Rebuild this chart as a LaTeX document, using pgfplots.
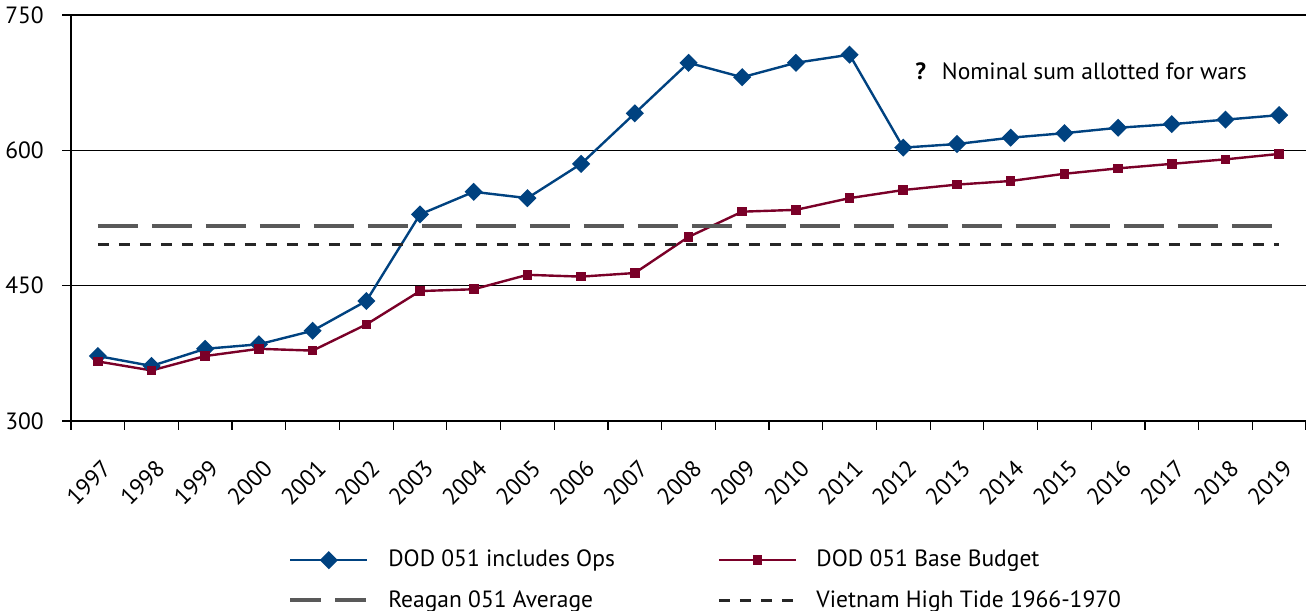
\documentclass[border=0pt]{standalone}
\usepackage{pgfplots}
\pgfplotsset{compat=1.18}
\usepackage{fontspec}
\setmainfont{PT Sans}
\definecolor{dodblue}{RGB}{0,66,128}
\definecolor{dodred}{RGB}{122,0,40}
\definecolor{reagan}{RGB}{89,89,89}
\definecolor{viet}{RGB}{38,38,38}
\begin{document}
\fontsize{11.8}{14}\selectfont
\begin{tikzpicture}
\begin{axis}[
  name=ax,
  scale only axis,
  width=617.5bp, height=203bp,
  xmin=-0.5, xmax=22.5,
  ymin=300, ymax=750,
  ytick={300,450,600,750},
  ymajorgrids,
  grid style={black, line width=0.6bp},
  axis x line=bottom, axis y line=left,
  axis line style={black, line width=0.8bp, -},
  xtick={0,...,22},
  xticklabels={1997,1998,1999,2000,2001,2002,2003,2004,2005,2006,2007,2008,2009,2010,2011,2012,2013,2014,2015,2016,2017,2018,2019},
  major x tick style={draw=none},
  minor xtick={-0.5,0.5,...,22.5},
  minor x tick style={black, line width=0.6bp},
  minor tick length=4.5bp,
  major tick length=4.5bp,
  tick align=outside,
  ytick style={black, line width=0.6bp},
  x tick label style={rotate=45, anchor=north east, font=\fontsize{11.8}{14}\selectfont, xshift=-4.85bp, yshift=-6.9bp},
  y tick label style={font=\fontsize{11.8}{14}\selectfont, xshift=-5bp},
  /pgf/number format/assume math mode=true,
  legend columns=2,
  legend cell align=left,
  legend style={draw=none, fill=none, at={(0.1708,-0.2974)}, anchor=north west,
    font=\fontsize{11.8}{14}\selectfont, row sep=6bp,
    /tikz/every odd column/.append style={column sep=6bp}},
  legend image code/.code={\draw[mark repeat=2,mark phase=2] plot coordinates {(0bp,0bp)(19.25bp,0bp)(38.5bp,0bp)};},
  clip=false,
]
\addplot[dodblue, line width=1.2bp, mark=square*, mark size=2.6bp, mark options={rotate=45, solid}] coordinates {
(0,372)(1,361)(2,380)(3,385)(4,400)(5,433)(6,529)(7,554)(8,547)(9,585)(10,641)(11,697)(12,681)(13,697)(14,706)(15,603)(16,607)(17,614)(18,619)(19,625)(20,629)(21,634)(22,639)};
\addlegendentry{\hspace{1.5bp}\makebox[162.5bp][l]{DOD 051 includes Ops}}
\addplot[dodred, line width=1.2bp, mark=square*, mark size=1.8bp, mark options={solid}] coordinates {
(0,366)(1,356)(2,372)(3,380)(4,378)(5,407)(6,444)(7,446)(8,462)(9,460)(10,464)(11,504)(12,532)(13,534)(14,547)(15,556)(16,562)(17,566)(18,574)(19,580)(20,585)(21,590)(22,596)};
\addlegendentry{\hspace{1.5bp}DOD 051 Base Budget}
\addplot[reagan, line width=2bp, dash pattern=on 20bp off 7bp, forget plot] coordinates {(0,516)(22,516)};
\addplot[viet, line width=1.4bp, dash pattern=on 5.5bp off 5bp, forget plot] coordinates {(0,496)(22,496)};
\addlegendimage{reagan, line width=2bp, dash pattern=on 15.5bp off 7bp, legend image code/.code={\draw (0bp,0bp)--(38.5bp,0bp);}}
\addlegendentry{\hspace{1.5bp}\makebox[162.5bp][l]{Reagan 051 Average}}
\addlegendimage{viet, line width=1.6bp, dash pattern=on 5.5bp off 5bp, legend image code/.code={\draw (0bp,0bp)--(38.5bp,0bp);}}
\addlegendentry{\hspace{1.5bp}Vietnam High Tide 1966-1970}
\node[anchor=base west, font=\fontsize{11.8}{14}\selectfont] at (axis cs:15.07,678) {\textbf{?}\hspace{8bp}Nominal sum allotted for wars};
\end{axis}
\pgfresetboundingbox
\path ([xshift=-35.5bp,yshift=7.5bp]ax.north west) rectangle ([yshift=-95bp]ax.south east);
\end{tikzpicture}
\end{document}
